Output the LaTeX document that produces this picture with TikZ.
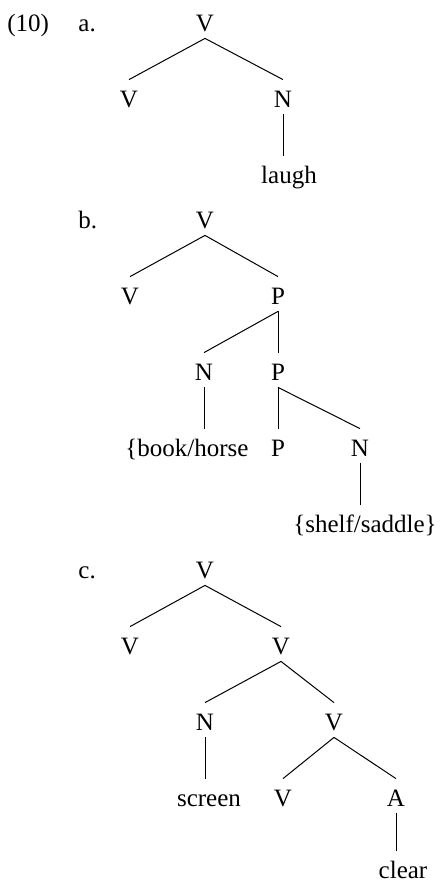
\documentclass[tikz,border=0pt]{standalone}
\usepackage{fontspec}
\setmainfont{Liberation Serif}
\usepackage{tikz}

\begin{document}
\begin{tikzpicture}[
  x=0.5pt, y=-0.5pt,
  cat/.style={font=\fontsize{12.5}{15}\selectfont, anchor=base, inner xsep=0pt,
              inner ysep=3.5pt, text height=10pt, text depth=0pt},
  lab/.style={font=\fontsize{12.5}{15}\selectfont, anchor=base west, inner sep=0pt},
  br/.style={draw=black, line width=0.5pt},
]
\useasboundingbox (0,0) rectangle (442,884);

\def\rA{31}    % (10a): rows 31, 107, 183
\def\rB{228}   % (10b): rows 228 ... 532
\def\rC{578}   % (10c): rows 578 ... 882
\def\dy{76}    % distance between tree levels

% ============ labels ========================================================
\node[lab] (ex)   at (7,\rA)  {(10)};
\node[lab] (labA) at (78,\rA) {a.};
\node[lab] (labB) at (78,\rB) {b.};
\node[lab] (labC) at (78,\rC) {c.};

% ============ (10a) ========================================================
\node[cat] (aV)  at (205,\rA)       {V};
\node[cat] (aV1) at (129,\rA+\dy)   {V};
\node[cat] (aN)  at (283,\rA+\dy)   {N};
\node[cat] (aL)  at (289,\rA+2*\dy) {laugh};

\draw[br] (aV.south) -- (aV1.north);
\draw[br] (aV.south) -- (aN.north);
\draw[br] (aN.south) -- (aN.south |- aL.north);

% ============ (10b) ========================================================
\node[cat] (bV)  at (205,\rB)       {V};
\node[cat] (bV1) at (130,\rB+\dy)   {V};
\node[cat] (bP)  at (278,\rB+\dy)   {P};
\node[cat] (bN)  at (204,\rB+2*\dy) {N};
\node[cat] (bP1) at (278,\rB+2*\dy) {P};
\node[cat] (bL1) at (187,\rB+3*\dy) {\{book/horse};
\node[cat] (bP2) at (278,\rB+3*\dy) {P};
\node[cat] (bN1) at (360,\rB+3*\dy) {N};
\node[cat] (bL2) at (365,\rB+4*\dy) {\{shelf/saddle\}};

\draw[br] (bV.south)  -- (bV1.north);
\draw[br] (bV.south)  -- (bP.north);
\draw[br] (bP.south)  -- (bN.north);
\draw[br] (bP.south)  -- (bP1.north);
\draw[br] (bN.south)  -- (bN.south |- bL1.north);
\draw[br] (bP1.south) -- (bP2.north);
\draw[br] (bP1.south) -- (bN1.north);
\draw[br] (bN1.south) -- (bN1.south |- bL2.north);

% ============ (10c) ========================================================
\node[cat] (cV)  at (205,\rC)       {V};
\node[cat] (cV1) at (130,\rC+\dy)   {V};
\node[cat] (cV2) at (281,\rC+\dy)   {V};
\node[cat] (cN)  at (205,\rC+2*\dy) {N};
\node[cat] (cV3) at (334,\rC+2*\dy) {V};
\node[cat] (cL1) at (209,\rC+3*\dy) {screen};
\node[cat] (cV4) at (283,\rC+3*\dy) {V};
\node[cat] (cA)  at (396,\rC+3*\dy) {A};
\node[cat] (cL2) at (403,\rC+4*\dy-4) {clear};

\draw[br] (cV.south)  -- (cV1.north);
\draw[br] (cV.south)  -- (cV2.north);
\draw[br] (cV2.south) -- (cN.north);
\draw[br] (cV2.south) -- (cV3.north);
\draw[br] (cN.south)  -- (cN.south |- cL1.north);
\draw[br] (cV3.south) -- (cV4.north);
\draw[br] (cV3.south) -- (cA.north);
\draw[br] (cA.south)  -- (cA.south |- cL2.north);

\end{tikzpicture}
\end{document}
